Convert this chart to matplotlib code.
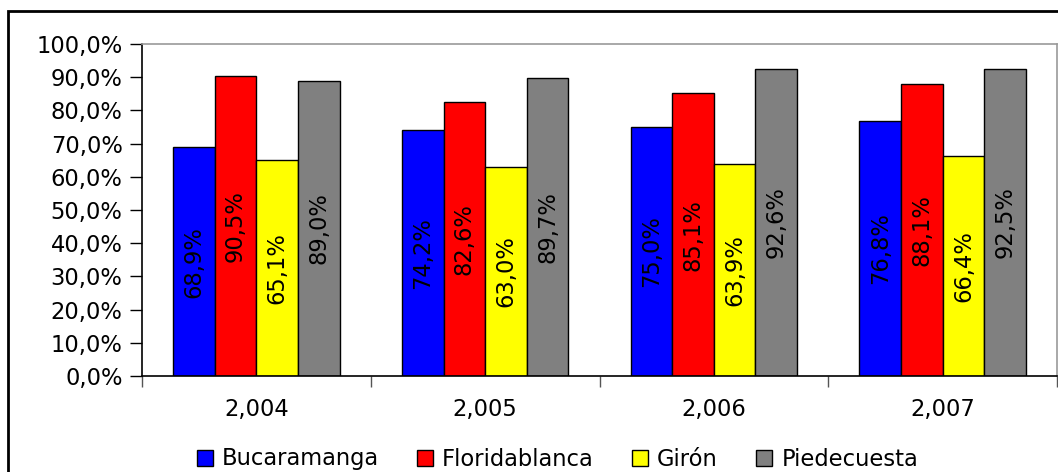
import numpy as np
import matplotlib.pyplot as plt
from matplotlib.patches import Rectangle
from matplotlib.ticker import FuncFormatter

plt.rcParams['font.family'] = ['DejaVu Sans']

years = ['2,004', '2,005', '2,006', '2,007']
series = ['Bucaramanga', 'Floridablanca', 'Girón', 'Piedecuesta']
bucaramanga = [68.9, 74.2, 75.0, 76.8]
floridablanca = [90.5, 82.6, 85.1, 88.1]
giron = [65.1, 63.0, 63.9, 66.4]
piedecuesta = [89.0, 89.7, 92.6, 92.5]
colors = ['#0000ff', '#ff0000', '#ffff00', '#808080']

values = [bucaramanga, floridablanca, giron, piedecuesta]
fs = 16.3

fig = plt.figure(figsize=(10.58, 4.72), dpi=100)
ax = fig.add_axes([142/1058, 1-376/472, 915/1058, 332/472])

x = np.arange(len(years))
w = 1/5.5
for i, (name, vals) in enumerate(zip(series, values)):
    pos = x + (i - 1.5) * w
    bars = ax.bar(pos, vals, w, color=colors[i], edgecolor='black', linewidth=1, label=name)
    for b, v in zip(bars, vals):
        ax.text(b.get_x() + w/2, v/2, f'{v:.1f}%'.replace('.', ','),
                rotation=90, ha='center', va='center', fontsize=fs, color='black')

ax.set_xlim(-0.5, len(years) - 0.5)
ax.set_ylim(0, 100)
ax.set_yticks(np.arange(0, 101, 10))
ax.yaxis.set_major_formatter(FuncFormatter(lambda v, p: f'{v:.1f}%'.replace('.', ',')))
ax.tick_params(axis='y', direction='out', length=9, width=1, labelsize=fs, pad=5)

ax.set_xticks(x)
ax.set_xticklabels(years)
ax.set_xticks(np.arange(-0.5, len(years)), minor=True)
ax.tick_params(axis='x', which='major', length=0, labelsize=fs, pad=16)
ax.tick_params(axis='x', which='minor', length=8, width=1, color='#555555')

ax.spines['left'].set_color('black')
ax.spines['bottom'].set_color('black')
ax.spines['top'].set_color('#999999')
ax.spines['right'].set_color('#999999')
for s in ax.spines.values():
    s.set_linewidth(1.2)

ax.legend(loc='center', bbox_to_anchor=(0.454, -0.25), ncol=4, frameon=False,
          fontsize=fs, handlelength=0.7, handleheight=0.7, handletextpad=0.4,
          columnspacing=1.7, borderaxespad=0)

fig.patches.append(Rectangle((8/1058, -0.1), 1.2, 1.1 - 11/472, transform=fig.transFigure,
                             fill=False, edgecolor='black', linewidth=2))

fig.savefig('out.png', dpi=100)
